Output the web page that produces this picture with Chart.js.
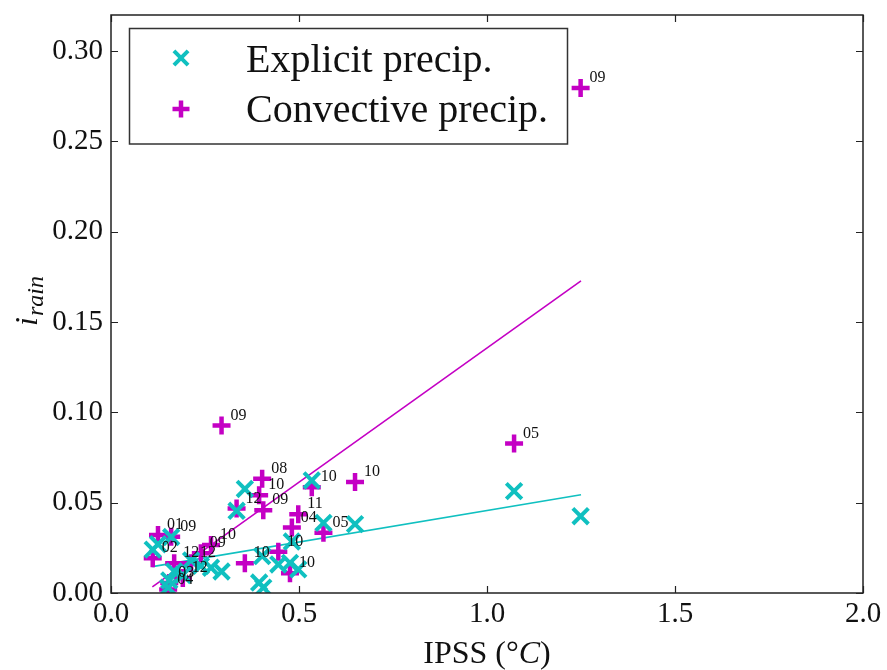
<!DOCTYPE html>
<html><head><meta charset="utf-8">
<script src="https://cdn.jsdelivr.net/npm/chart.js@4.4.1/dist/chart.umd.min.js"></script>
<style>html,body{margin:0;padding:0;background:#fff;}#wrap{width:887px;height:670px;}</style>
</head><body><div id="wrap"><canvas id="c" width="887" height="670"></canvas></div>
<script>
// ---- data ----
const ipss = [1.249, 1.072, 0.294, 0.402, 0.394, 0.334, 0.405, 0.534, 0.649, 0.498, 0.481, 0.565, 0.356,
              0.445, 0.476, 0.266, 0.239, 0.213, 0.168, 0.191, 0.155, 0.152, 0.111, 0.125, 0.160];
const explicitRain = [0.0425, 0.0564, 0.0119, 0.0204, 0.0058, 0.0455, 0.0030, 0.0623, 0.0381, 0.0131, 0.0285, 0.0388, 0.0576,
                      0.0158, 0.0167, 0.0140, 0.0150, 0.0180, 0.0120, 0.0100, 0.0070, 0.0030, 0.0240, 0.0270, 0.0310];
const convectiveRain = [0.2796, 0.0828, 0.0927, 0.0633, 0.0541, 0.0468, 0.0458, 0.0586, 0.0614, 0.0436, 0.0363, 0.0333, 0.0165,
                        0.0229, 0.0110, 0.0266, 0.0220, 0.0165, 0.0165, 0.0083, 0.0055, 0.0020, 0.0193, 0.0321, 0.0311];
const eventLabels = ['09', '05', '09', '08', '10', '12', '09', '10', '10', '11', '04', '05', '10',
                     '10', '10', '10', '09', '12', '12', '12', '03', '04', '02', '01', '09'];
const fitX = [0.11, 1.25];
const fitExplicit = [0.0146, 0.0544];
const fitConvective = [0.0034, 0.1728];
const xTicks = [0, 0.5, 1.0, 1.5, 2.0];
const yTicks = [0, 0.05, 0.10, 0.15, 0.20, 0.25, 0.30];
const seriesNames = ['Explicit precip.', 'Convective precip.'];

const CYAN = '#10C0C0';
const MAGENTA = '#C400C4';
const SERIF = '"Liberation Serif", "DejaVu Serif", serif';

const pts = (xs, ys) => xs.map((x, i) => ({x: x, y: ys[i]}));

function drawMarker(ctx, style, x, y, r, color, lw) {
  ctx.save();
  ctx.strokeStyle = color; ctx.lineWidth = lw; ctx.lineCap = 'butt';
  ctx.beginPath();
  if (style === 'cross') {
    ctx.moveTo(x - r, y); ctx.lineTo(x + r, y);
    ctx.moveTo(x, y - r); ctx.lineTo(x, y + r);
  } else {
    const d = r * Math.SQRT1_2;
    ctx.moveTo(x - d, y - d); ctx.lineTo(x + d, y + d);
    ctx.moveTo(x - d, y + d); ctx.lineTo(x + d, y - d);
  }
  ctx.stroke();
  ctx.restore();
}

const framePlugin = {
  id: 'frame',
  afterDatasetsDraw(chart) {
    const {ctx, chartArea: a, scales} = chart;
    ctx.save();
    // point labels for convective series
    const meta = chart.getDatasetMeta(1);
    ctx.fillStyle = '#111';
    ctx.font = '16px ' + SERIF;
    ctx.textBaseline = 'middle';
    ctx.textAlign = 'left';
    meta.data.forEach((el, i) => {
      ctx.fillText(eventLabels[i], el.x + 9, el.y - 10);
    });
    // frame
    ctx.strokeStyle = '#222';
    ctx.lineWidth = 1.5;
    ctx.strokeRect(a.left, a.top, a.right - a.left, a.bottom - a.top);
    // inward ticks on all sides
    ctx.lineWidth = 1.2;
    ctx.beginPath();
    xTicks.forEach(v => {
      const px = Math.round(scales.x.getPixelForValue(v)) + 0.5;
      ctx.moveTo(px, a.bottom); ctx.lineTo(px, a.bottom - 7);
      ctx.moveTo(px, a.top); ctx.lineTo(px, a.top + 7);
    });
    yTicks.forEach(v => {
      const py = Math.round(scales.y.getPixelForValue(v)) + 0.5;
      ctx.moveTo(a.left, py); ctx.lineTo(a.left + 7, py);
      ctx.moveTo(a.right, py); ctx.lineTo(a.right - 7, py);
    });
    ctx.stroke();
    ctx.restore();
  },
  afterDraw(chart) {
    const {ctx, chartArea: a} = chart;
    ctx.save();
    // y title: i_rain
    ctx.fillStyle = '#111';
    ctx.translate(37, 301);
    ctx.rotate(-Math.PI / 2);
    ctx.font = 'italic 32px ' + SERIF;
    const wi = ctx.measureText('i').width;
    ctx.font = 'italic 24px ' + SERIF;
    const wr = ctx.measureText('rain').width;
    const start = -(wi + wr + 1) / 2;
    ctx.textBaseline = 'alphabetic';
    ctx.font = 'italic 32px ' + SERIF;
    ctx.fillText('i', start, 0);
    ctx.font = 'italic 24px ' + SERIF;
    ctx.fillText('rain', start + wi + 1, 6);
    ctx.restore();

    // x title: IPSS (°C)
    ctx.save();
    ctx.fillStyle = '#111';
    ctx.textBaseline = 'alphabetic';
    const parts = [['IPSS (°', '32px ' + SERIF], ['C', 'italic 32px ' + SERIF], [')', '32px ' + SERIF]];
    let tw = 0;
    parts.forEach(p => { ctx.font = p[1]; tw += ctx.measureText(p[0]).width; });
    let xx = (a.left + a.right) / 2 - tw / 2;
    parts.forEach(p => { ctx.font = p[1]; ctx.fillText(p[0], xx, 663); xx += ctx.measureText(p[0]).width; });
    ctx.restore();

    // legend
    ctx.save();
    ctx.fillStyle = '#fff';
    ctx.strokeStyle = '#333';
    ctx.lineWidth = 1.5;
    ctx.fillRect(129.5, 28.5, 438, 115.5);
    ctx.strokeRect(129.5, 28.5, 438, 115.5);
    drawMarker(ctx, 'crossRot', 181, 58, 10, CYAN, 4);
    drawMarker(ctx, 'cross', 181, 109, 8.5, MAGENTA, 4.5);
    ctx.fillStyle = '#111';
    ctx.font = '40px ' + SERIF;
    ctx.textBaseline = 'alphabetic';
    ctx.fillText(seriesNames[0], 246, 71.5);
    ctx.fillText(seriesNames[1], 246, 121.5);
    ctx.restore();
  }
};

function fixedScale(size) {
  return function (scale) {
    if (scale.isHorizontal()) scale.height = size; else scale.width = size;
    scale.paddingTop = 0; scale.paddingBottom = 0; scale.paddingLeft = 0; scale.paddingRight = 0;
  };
}

new Chart(document.getElementById('c'), {
  type: 'scatter',
  data: {
    datasets: [
      {label: seriesNames[0], data: pts(ipss, explicitRain), pointStyle: 'crossRot', pointRadius: 11,
       pointHoverRadius: 11, borderColor: CYAN, backgroundColor: CYAN, pointBorderWidth: 4, borderWidth: 4},
      {label: seriesNames[1], data: pts(ipss, convectiveRain), pointStyle: 'cross', pointRadius: 9,
       pointHoverRadius: 9, borderColor: MAGENTA, backgroundColor: MAGENTA, pointBorderWidth: 4.5, borderWidth: 4.5},
      {type: 'line', label: 'fit explicit', data: pts(fitX, fitExplicit), borderColor: CYAN, borderWidth: 1.6,
       pointRadius: 0, fill: false, showLine: true},
      {type: 'line', label: 'fit convective', data: pts(fitX, fitConvective), borderColor: MAGENTA, borderWidth: 1.6,
       pointRadius: 0, fill: false, showLine: true}
    ]
  },
  options: {
    responsive: false,
    animation: false,
    devicePixelRatio: 1,
    layout: {padding: {left: 0, right: 24, top: 11, bottom: 0}},
    plugins: {legend: {display: false}, tooltip: {enabled: false}},
    scales: {
      x: {
        type: 'linear', min: 0, max: 2,
        afterBuildTicks: s => { s.ticks = xTicks.map(v => ({value: v})); },
        afterFit: fixedScale(77),
        grid: {display: false, drawTicks: false},
        border: {display: false},
        ticks: {color: '#111', padding: 4, maxRotation: 0, font: {family: SERIF, size: 29},
                callback: v => Number(v).toFixed(1)}
      },
      y: {
        type: 'linear', min: 0, max: 0.32,
        afterBuildTicks: s => { s.ticks = yTicks.map(v => ({value: v})); },
        afterFit: fixedScale(111),
        grid: {display: false, drawTicks: false},
        border: {display: false},
        ticks: {color: '#111', padding: 8, font: {family: SERIF, size: 29},
                callback: v => Number(v).toFixed(2)}
      }
    }
  },
  plugins: [framePlugin]
});
</script></body></html>
